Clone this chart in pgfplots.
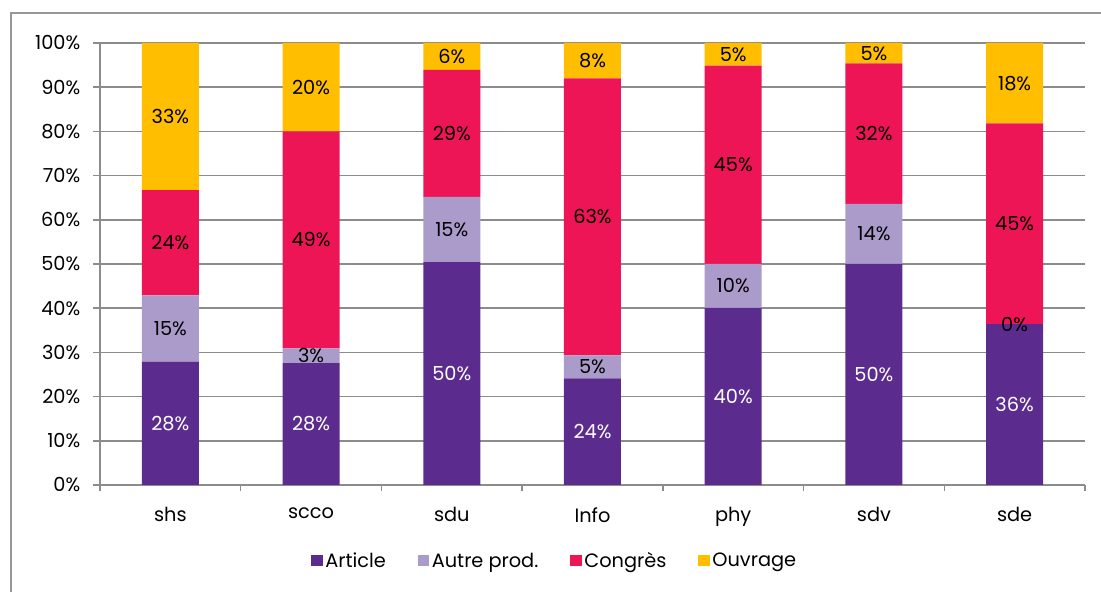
\documentclass[border=0pt]{standalone}
\usepackage{fontspec}
\setmainfont{Poppins}
\usepackage{pgfplots}
\usepackage{pgfplotstable}
\pgfplotsset{compat=1.18}
\definecolor{cArt}{HTML}{5B2C8E}
\definecolor{cAut}{HTML}{AB9BCA}
\definecolor{cCon}{HTML}{EE1556}
\definecolor{cOuv}{HTML}{FFBF00}
\definecolor{cGrid}{HTML}{8C8C8C}
\pgfplotstableread{
x art aut con ouv
0 27.9 15.0 23.8 33.3
1 27.6 3.3 49.1 20.0
2 50.4 14.8 28.7 6.1
3 24.1 5.2 62.7 8.0
4 40.1 9.9 44.9 5.1
5 50.0 13.6 31.8 4.6
6 36.4 0 45.4 18.2
}\datatable
\begin{document}
\begin{tikzpicture}[x=1pt,y=1pt]
\path[use as bounding box] (0,0) rectangle (825.75,444);
\draw[color=cGrid!90, line width=1.2pt] (8.25,-5) -- (8.25,434.25) -- (830,434.25);
\begin{axis}[
  at={(75pt,80.25pt)}, anchor=south west,
  scale only axis, width=738.75pt, height=331.5pt,
  ybar stacked, bar width=42.75pt,
  xmin=-0.5, xmax=6.5, ymin=0, ymax=100,
  xtick={0,...,6}, xticklabels={shs,scco,sdu,Info,phy,sdv,sde},
  major x tick style={draw=none},
  minor xtick={-0.5,0.5,...,6.5},
  minor tick length=4.5pt,
  ytick={0,10,...,100},
  yticklabel={\pgfmathprintnumber{\tick}\%},
  /pgf/number format/assume math mode=true,
  tick align=outside, major tick length=5.25pt,
  tick style={cGrid, line width=1.1pt},
  axis x line*=bottom, axis y line*=left,
  axis line style={cGrid, line width=1.1pt, -},
  ymajorgrids, grid style={cGrid, line width=1.1pt},
  tick label style={font=\fontsize{14.5}{17}\selectfont, black},
  xticklabel style={yshift=-8pt},
  yticklabel style={xshift=-6pt},
  draw=none,
  point meta=rawy,
  nodes near coords={\pgfmathprintnumber[fixed,precision=0]{\pgfplotspointmeta}\%},
  every node near coord/.append style={anchor=center, font=\fontsize{14.5}{17}\selectfont},
  legend style={draw=none, at={(0.462,-0.172)}, anchor=center, legend columns=4,
    font=\fontsize{14.5}{17}\selectfont, /tikz/every even column/.append style={column sep=22pt},
    legend cell align=left},
  legend image code/.code={\fill[#1] (0pt,-4pt) rectangle (8.5pt,4.5pt);},
]
\addplot[fill=cArt, draw=none, every node near coord/.append style={white}] table[x=x,y=art] {\datatable};
\addplot[fill=cAut, draw=none, every node near coord/.append style={black}] table[x=x,y=aut] {\datatable};
\addplot[fill=cCon, draw=none, every node near coord/.append style={black}] table[x=x,y=con] {\datatable};
\addplot[fill=cOuv, draw=none, every node near coord/.append style={black}] table[x=x,y=ouv] {\datatable};
\legend{Article,Autre prod.,Congrès,Ouvrage}
\end{axis}
% overlay axis for the zero-valued label that sits on top of the stack boundary
\begin{axis}[
  at={(75pt,80.25pt)}, anchor=south west,
  scale only axis, width=738.75pt, height=331.5pt,
  xmin=-0.5, xmax=6.5, ymin=0, ymax=100, hide axis,
]
\addplot[draw=none, mark=none, nodes near coords={0\%},
  every node near coord/.style={anchor=center, black, font=\fontsize{14.5}{17}\selectfont}]
  coordinates {(6,36.4)};
\end{axis}
\end{tikzpicture}
\end{document}
